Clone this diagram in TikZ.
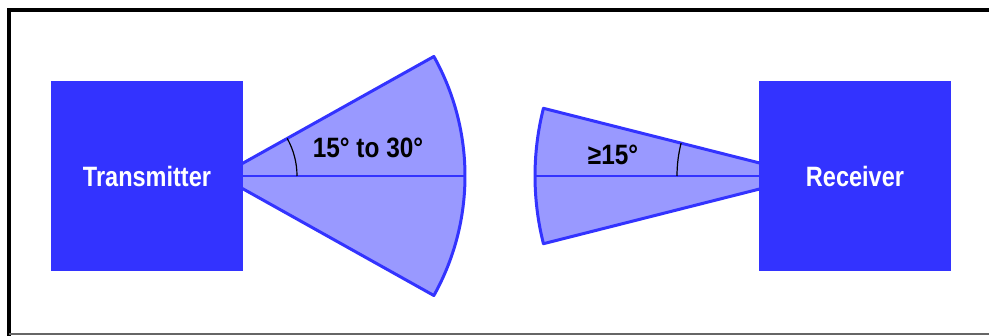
\documentclass[tikz,border=0pt]{standalone}
\usepackage{fontspec}
\setmainfont{Liberation Sans}
\definecolor{boxblue}{HTML}{3333FF}
\definecolor{fanblue}{HTML}{9999FF}
\tikzset{
  unit/.style={fill=boxblue, draw=none, minimum width=96pt, minimum height=95pt,
    text=white, font=\bfseries\fontsize{14}{16}\selectfont, inner sep=0pt},
  fan/.style={fill=fanblue, draw=boxblue, line width=1.5pt, line join=round},
  axis/.style={draw=boxblue, line width=0.6pt},
  angmark/.style={draw=black, line width=0.6pt},
  anglabel/.style={font=\bfseries\fontsize{14}{16}\selectfont, inner sep=0pt}
}
\begin{document}
\begin{tikzpicture}[x=0.5pt, y=-0.5pt]
    \useasboundingbox (0,0) rectangle (989,336);
    % Frame
    \draw[line width=2pt] (9,336) -- (9,10.5) -- (989,10.5);
    \draw[line width=1pt, black!60] (9,333.5) -- (989,333.5);

    % Beam of the transmitter
    \coordinate (txapex) at (220,176);
    \draw[fan] (txapex) -- ++(-29.2:245) arc[start angle=-29.2, end angle=29.2, radius=245] -- cycle;
    \draw[axis] (txapex) -- (465,176);
    \draw[angmark] ([shift={(0:77)}]txapex) arc[start angle=0, end angle=-29.2, radius=77];
    \node[anglabel] (txangle) at (368,148) {\scalebox{0.87}[1]{15° to 30°}};

    % Field of view of the receiver
    \coordinate (rxapex) at (811,176);
    \draw[fan] (rxapex) -- ++(194.2:276) arc[start angle=194.2, end angle=165.8, radius=276] -- cycle;
    \draw[axis] (rxapex) -- (536,176);
    \draw[angmark] ([shift={(180:134)}]rxapex) arc[start angle=180, end angle=194.2, radius=134];
    \node[anglabel] (rxangle) at (613,155) {\scalebox{0.87}[1]{≥15°}};

    % Units
    \node[unit] (tx) at (147,176) {\scalebox{0.84}[1]{Transmitter}};
    \node[unit] (rx) at (855,176) {\scalebox{0.84}[1]{Receiver}};
\end{tikzpicture}
\end{document}
